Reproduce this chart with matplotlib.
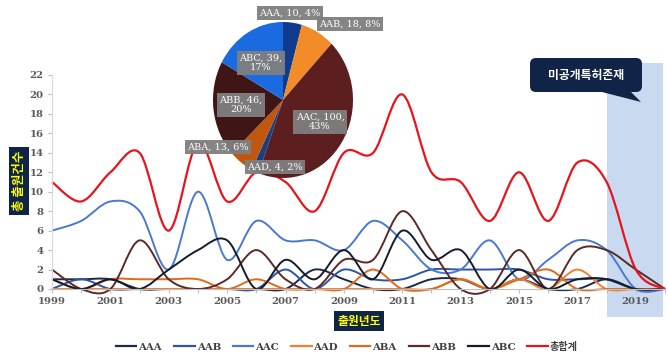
import matplotlib
matplotlib.use("Agg")
import matplotlib.pyplot as plt
from matplotlib.path import Path
from matplotlib.patches import PathPatch, Rectangle, FancyBboxPatch, Polygon
from matplotlib.lines import Line2D

# 출원년도
years = list(range(1999, 2021))

# 연도별 출원건수
aaa = [1, 1, 1, 0, 0, 0, 0, 0, 0, 2, 1, 0, 0, 1, 1, 0, 1, 0, 0, 1, 0, 0]
aab = [0, 1, 0, 0, 0, 0, 0, 0, 2, 0, 2, 1, 1, 2, 2, 2, 2, 1, 1, 1, 0, 0]
aac = [6, 7, 9, 8, 2, 10, 3, 7, 5, 5, 4, 7, 5, 2, 2, 5, 1, 3, 5, 4, 0, 0]
aad = [0, 0, 0, 0, 0, 0, 0, 0, 0, 0, 0, 0, 0, 0, 1, 0, 1, 0, 2, 0, 0, 0]
aba = [1, 0, 1, 1, 1, 1, 0, 1, 0, 0, 0, 2, 0, 0, 1, 0, 1, 2, 0, 0, 0, 0]
abb = [2, 0, 0, 5, 1, 0, 1, 4, 1, 0, 3, 3, 8, 4, 0, 0, 4, 0, 4, 4, 2, 0]
abc = [1, 0, 1, 0, 2, 4, 5, 0, 3, 1, 4, 1, 6, 3, 4, 0, 2, 0, 1, 1, 0, 0]
total = [11, 9, 12, 14, 6, 15, 9, 12, 11, 8, 14, 14, 20, 12, 11, 7, 12, 7, 13, 11, 2, 0]

series_names = ["AAA", "AAB", "AAC", "AAD", "ABA", "ABB", "ABC", "총합계"]
series_values = [aaa, aab, aac, aad, aba, abb, abc, total]
line_colors = ["#1b2a49", "#2e54a8", "#4a78d0", "#f08030", "#e06a18", "#5a2a28", "#141c2c", "#e8141c"]

# 파이 차트 (합계)
pie_names = ["AAA", "AAB", "AAC", "AAD", "ABA", "ABB", "ABC"]
pie_values = [10, 18, 100, 4, 13, 46, 39]
pie_colors = ["#0f3c8c", "#f28c28", "#5c1e1e", "#1a3f80", "#c0570e", "#3f1515", "#1a6ae0"]
pie_wrap = [False, False, True, False, False, True, True]

SHADE_START = 2018
SHADE_END = 2019.93

W, H = 668, 353
SERIF = ["DejaVu Serif", "Noto Sans CJK KR"]
KR = ["Noto Sans CJK KR", "DejaVu Sans"]


def px(x, y):
    # 픽셀 좌표(위에서부터) -> 인치
    return (x / 100, (H - y) / 100)


def smooth_path(xs, ys):
    # 엑셀식 부드러운 선 (베지어)
    n = len(xs)
    verts = [(xs[0], ys[0])]
    codes = [Path.MOVETO]
    for i in range(n - 1):
        a = i - 1 if i > 0 else i
        d = i + 2 if i + 2 < n else i + 1
        c1 = (xs[i] + (xs[i + 1] - xs[a]) / 6, ys[i] + (ys[i + 1] - ys[a]) / 6)
        c2 = (xs[i + 1] - (xs[d] - xs[i]) / 6, ys[i + 1] - (ys[d] - ys[i]) / 6)
        verts += [c1, c2, (xs[i + 1], ys[i + 1])]
        codes += [Path.CURVE4] * 3
    return Path(verts, codes)


fig = plt.figure(figsize=(W / 100, H / 100), dpi=100)
ax = fig.add_axes([52 / W, (H - 289) / H, (665 - 52) / W, (289 - 75) / H])

ax.add_patch(Rectangle((SHADE_START, -2.9), SHADE_END - SHADE_START, 26.1,
                       facecolor="#c8d9f0", edgecolor="none", clip_on=False, zorder=0.5))

for vals, col, name in zip(series_values, line_colors, series_names):
    lw = 1.6 if name == "총합계" else 1.4
    ax.add_patch(PathPatch(smooth_path(years, vals), facecolor="none", edgecolor=col,
                           lw=lw, clip_on=False, zorder=2))

ax.set_xlim(1999, 2020)
ax.set_ylim(0, 22)
ax.set_yticks(range(0, 23, 2))
ax.set_xticks(years, minor=False)
ax.set_xticklabels([str(y) if (y - 1999) % 2 == 0 else "" for y in years])
for s in ["top", "right"]:
    ax.spines[s].set_visible(False)
ax.spines["left"].set_color("#d9d9d9")
ax.spines["bottom"].set_color("#bfbfbf")
ax.tick_params(axis="both", colors="#bfbfbf", length=3, width=0.8)
for lab in ax.get_xticklabels() + ax.get_yticklabels():
    lab.set_family(SERIF)
    lab.set_fontweight("bold")
    lab.set_fontsize(7.3)
    lab.set_color("#595959")
ax.tick_params(axis="x", pad=3)
ax.tick_params(axis="y", pad=3)

# 축 제목
fig.text(19 / W, 1 - 181 / H, "총 출원건수", rotation=90, ha="center", va="center",
         family=KR, fontsize=9, fontweight="bold", color="#ffff00",
         bbox=dict(boxstyle="square,pad=0.3", fc="#0f2446", ec="none"))
fig.text(359 / W, 1 - 321 / H, "출원년도", ha="center", va="center",
         family=KR, fontsize=8.5, fontweight="bold", color="#ffff00",
         bbox=dict(boxstyle="square,pad=0.3", fc="#0f2446", ec="none"))

# 말풍선
x0, y0 = px(530, 92)
bx = FancyBboxPatch((x0, y0), 1.12, 0.34, boxstyle="round,pad=0,rounding_size=0.06",
                    transform=fig.dpi_scale_trans, fc="#0f2446", ec="none", zorder=5)
fig.patches.append(bx)
tail = Polygon([px(598, 91), px(630, 91), px(641, 102)], closed=True,
               transform=fig.dpi_scale_trans, fc="#0f2446", ec="none", zorder=5)
fig.patches.append(tail)
fig.text(586 / W, 1 - 75 / H, "미공개특허존재", ha="center", va="center", family=KR,
         fontsize=8.5, fontweight="bold", color="white", zorder=6)

# 파이
pax = fig.add_axes([213 / W, (H - 178) / H, 140 / W, 156 / H])
pax.pie(pie_values, colors=pie_colors, startangle=90, counterclock=False,
        wedgeprops=dict(linewidth=0))
pax.set_aspect("auto")
pax.set_xlim(-1, 1)
pax.set_ylim(-1, 1)
pax.axis("off")

tot = sum(pie_values)
label_pos = [(290, 13), (350, 24), (320, 122), (275, 167), (218, 147), (241, 105), (261, 63)]
for name, v, wrap, (lx, ly) in zip(pie_names, pie_values, pie_wrap, label_pos):
    pct = round(v / tot * 100)
    txt = f"{name}, {v},\n{pct}%" if wrap else f"{name}, {v}, {pct}%"
    fig.text(lx / W, 1 - ly / H, txt, ha="center", va="center", family=SERIF,
             fontsize=7, color="white", linespacing=1.1, zorder=7,
             bbox=dict(boxstyle="square,pad=0.25", fc="#7f7f7f", ec="none", alpha=0.95))

# 범례
handles = [Line2D([], [], color=c, lw=1.6) for c in line_colors]
leg = fig.legend(handles, series_names, ncol=8, loc="center", bbox_to_anchor=(347 / W, 1 - 347 / H),
                 frameon=False, handlelength=2.0, handletextpad=0.2, columnspacing=1.2,
                 prop=dict(family=SERIF, weight="bold", size=7.3))
for t in leg.get_texts():
    t.set_color("#404040")

fig.savefig("out.png", dpi=100)
